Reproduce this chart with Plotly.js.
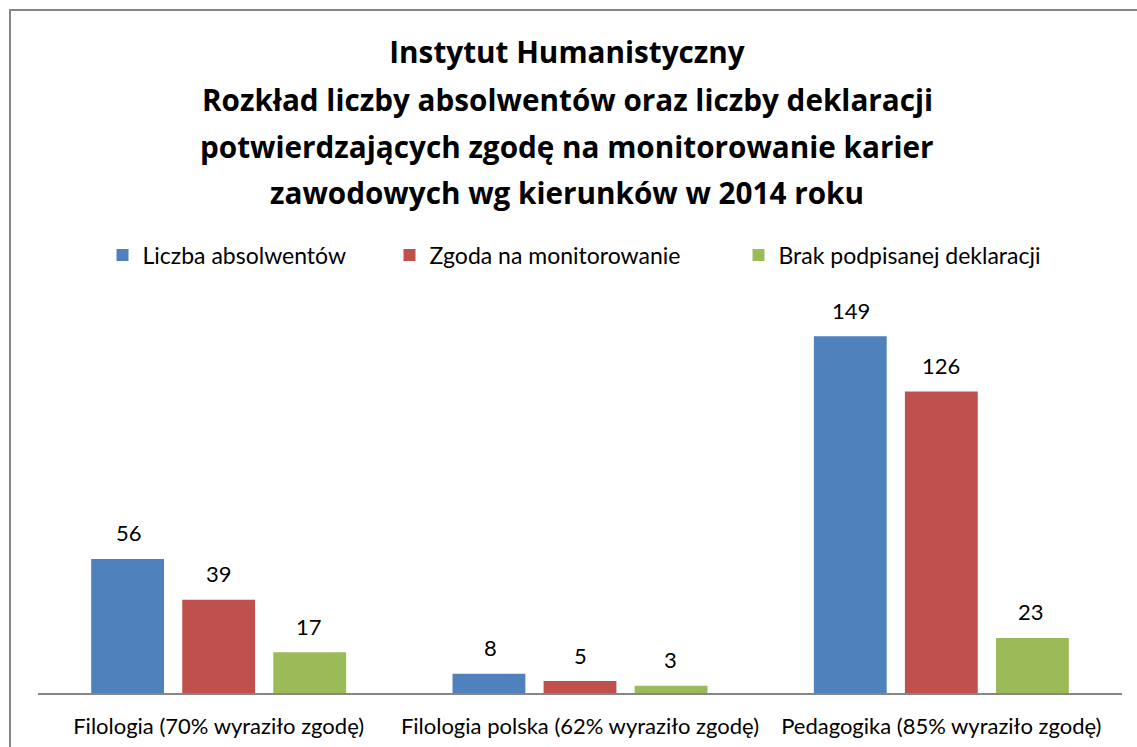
<!DOCTYPE html>
<html>
<head>
<meta charset="utf-8">
<script src="https://cdn.plot.ly/plotly-3.0.1.min.js"></script>
<style>
  html, body { margin: 0; padding: 0; background: #fff; overflow: hidden; }
  #chart { width: 1137px; height: 747px; position: absolute; left: 0; top: 0; }
  #frame { position: absolute; left: 9px; top: 9px; width: 1300px; height: 900px;
           border-left: 2px solid #868686; border-top: 2px solid #868686; pointer-events: none; }
</style>
</head>
<body>
<div id="chart"></div>
<div id="frame"></div>
<script>
const categories = [
  "Filologia (70% wyraziło zgodę)",
  "Filologia polska (62% wyraziło zgodę)",
  "Pedagogika (85% wyraziło zgodę)"
];
const seriesNames = ["Liczba absolwentów", "Zgoda na monitorowanie", "Brak podpisanej deklaracji"];
const absolwenci = [56, 8, 149];
const zgoda = [39, 5, 126];
const brak = [17, 3, 23];
const titleLines = [
  "Instytut Humanistyczny",
  "Rozkład liczby absolwentów oraz liczby deklaracji",
  "potwierdzających zgodę na monitorowanie karier",
  "zawodowych wg kierunków w 2014 roku"
];

const colors = ["#4F81BD", "#C0504D", "#9BBB59"];
const FONT = "Lato, Carlito, Calibri, 'Open Sans', sans-serif";
const TFONT = "'Open Sans', Carlito, Calibri, sans-serif";
const allSeries = [absolwenci, zgoda, brak];
const legendIds = ["legend", "legend2", "legend3"];
const legendPx = [102.5, 389.5, 738.5];

const traces = allSeries.map((vals, i) => ({
  type: "bar",
  name: seriesNames[i],
  x: categories,
  y: vals,
  legend: legendIds[i],
  marker: { color: colors[i] },
  hoverinfo: "skip"
}));

const annotations = [];
allSeries.forEach((vals, i) => {
  vals.forEach((v, j) => {
    annotations.push({
      x: categories[j], y: v, xref: "x", yref: "y",
      text: String(v), showarrow: false,
      xshift: (i - 1) * 90, yshift: 26, yanchor: "middle",
      font: { family: FONT, size: 22, color: "#000" }
    });
  });
});
const lineCenters = [53, 100, 146, 193];
titleLines.slice(1).forEach((t, k) => {
  annotations.push({
    text: "<b>" + t + "</b>", showarrow: false,
    xref: "paper", yref: "paper",
    x: (567 - 38) / 1084, xanchor: "center",
    y: (693 - lineCenters[k + 1]) / 383, yanchor: "middle",
    font: { family: TFONT, size: 29.7, color: "#000" }
  });
});

const layout = {
  width: 1137, height: 747,
  paper_bgcolor: "#fff", plot_bgcolor: "#fff",
  margin: { l: 38, r: 15, t: 310, b: 54 },
  title: {
    text: "<b>" + titleLines[0] + "</b>",
    font: { family: TFONT, size: 29.7, color: "#000" },
    x: 567 / 1137, xanchor: "center", xref: "container",
    y: 1 - lineCenters[0] / 747, yanchor: "middle", yref: "container"
  },
  font: { family: FONT, size: 22, color: "#000" },
  barmode: "group",
  bargap: 0.244,
  bargroupgap: 0.2,
  showlegend: true,
  xaxis: {
    type: "category",
    showline: true, linecolor: "#868686", linewidth: 2,
    ticks: "", showgrid: false, zeroline: false,
    ticklabelstandoff: 13,
    tickfont: { family: FONT, size: 22, color: "#000" },
    fixedrange: true
  },
  yaxis: {
    range: [0, 160],
    visible: false, showgrid: false, zeroline: false,
    fixedrange: true
  },
  annotations: annotations
};
legendIds.forEach((id, i) => {
  layout[id] = {
    orientation: "h",
    x: (legendPx[i] - 38) / 1084, xanchor: "left",
    y: (693 - 255) / 383, yanchor: "middle",
    font: { family: FONT, size: 23, color: "#000" },
    bgcolor: "rgba(0,0,0,0)"
  };
});

Plotly.newPlot("chart", traces, layout, { displayModeBar: false, staticPlot: true });
</script>
</body>
</html>
